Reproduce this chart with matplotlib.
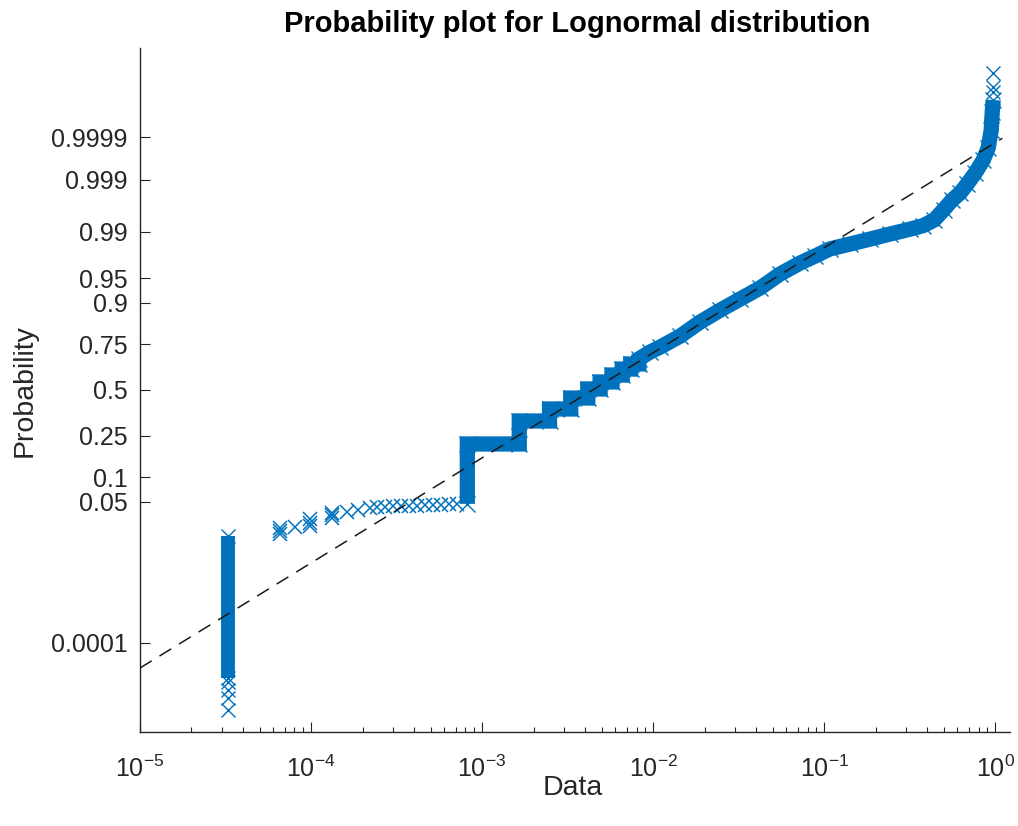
import numpy as np
import matplotlib
matplotlib.use("Agg")
import matplotlib.pyplot as plt
from matplotlib.ticker import NullLocator, FixedLocator, FixedFormatter
from statistics import NormalDist

plt.rcParams['font.family'] = ['Liberation Sans', 'DejaVu Sans']
plt.rcParams['mathtext.default'] = 'regular'

std = NormalDist()

# tied block of smallest values (drawn as a solid column)
col_x = 3.27e-5
col_p = [1.14e-5, 0.0158]
# isolated markers below that block
low_tail_p = [8.9e-6, 5.2e-6, 2.95e-6, 1.24e-6]

# sparse markers between the column and the first big step
mid_x = [6.6e-5, 6.6e-5, 6.6e-5, 8.05e-5, 9.8e-5, 9.8e-5, 9.8e-5,
         1.33e-4, 1.33e-4, 1.33e-4, 1.63e-4, 1.88e-4, 2.21e-4,
         2.43e-4, 2.71e-4, 3.02e-4, 3.36e-4, 3.74e-4, 4.17e-4,
         4.64e-4, 5.17e-4, 5.76e-4, 6.41e-4, 7.14e-4]
mid_p = [0.017, 0.019, 0.021, 0.022, 0.0228, 0.0255, 0.0285,
         0.030, 0.033, 0.035, 0.0365, 0.0388, 0.0414,
         0.0426, 0.0430, 0.0434, 0.0438, 0.0442, 0.0446,
         0.0450, 0.0454, 0.0458, 0.0462, 0.0466]

# dense part of the sample (staircase then smooth upper body)
path_x = [8.2e-4, 8.2e-4, 1.65e-3, 1.65e-3, 2.48e-3, 2.48e-3, 3.3e-3, 3.3e-3,
          4.15e-3, 4.15e-3, 4.9e-3, 4.9e-3, 5.75e-3, 5.75e-3, 6.6e-3, 6.6e-3,
          7.4e-3, 7.4e-3, 8.25e-3, 8.25e-3,
          9.61e-3, 1.10e-2, 1.44e-2, 1.88e-2, 2.47e-2, 3.23e-2, 4.22e-2,
          5.53e-2, 7.24e-2, 8.86e-2, 0.108, 0.142, 0.186, 0.243, 0.318,
          0.380, 0.440, 0.500, 0.560, 0.624, 0.686, 0.764, 0.851, 0.910,
          0.948, 0.961, 0.973]
path_p = [0.047, 0.2136, 0.2136, 0.3242, 0.3242, 0.390, 0.390, 0.453,
          0.453, 0.506, 0.506, 0.547, 0.547, 0.587, 0.587, 0.621,
          0.621, 0.649, 0.649, 0.676,
          0.712, 0.736, 0.786, 0.841, 0.880, 0.9096, 0.9332,
          0.956, 0.9691, 0.9756, 0.9810, 0.9841, 0.9868, 0.9891, 0.9910,
          0.9922, 0.9938, 0.9960, 0.9974, 0.99812, 0.99877, 0.99929, 0.99964,
          0.999814, 0.999934, 0.999978, 0.99999]

# isolated markers at the top
high_x = [0.97, 0.97, 0.973]
high_p = [0.9999941, 0.9999958, 0.9999984]

# fitted lognormal reference line
fit_mu = -5.42
fit_sigma = 1.49
line_x = [1e-5, 1.1]

prob_ticks = [0.0001, 0.05, 0.1, 0.25, 0.5, 0.75, 0.9, 0.95, 0.99, 0.999, 0.9999]
prob_labels = ['0.0001', '0.05', '0.1', '0.25', '0.5', '0.75', '0.9', '0.95',
               '0.99', '0.999', '0.9999']


def fwd(p):
    p = np.clip(np.asarray(p, dtype=float), 1e-300, 1 - 1e-16)
    return np.vectorize(std.inv_cdf, otypes=[float])(p)


def inv(z):
    return np.vectorize(std.cdf, otypes=[float])(np.asarray(z, dtype=float))


blue = '#0072BD'
grey = '#262626'

fig = plt.figure(figsize=(10.18, 8.26), dpi=100)
ax = fig.add_axes([0.1375, 0.1138, 0.8546, 0.8281])
ax.set_xscale('log')
ax.set_yscale('function', functions=(fwd, inv))

# reference line
line_p = [std.cdf((np.log(v) - fit_mu) / fit_sigma) for v in line_x]
ax.plot(line_x, line_p, color='#1a1a1a', lw=1.1, dashes=(9, 6), zorder=3)

# data
ax.plot([col_x, col_x], col_p, color=blue, lw=10, solid_capstyle='butt', zorder=2)
ax.plot([col_x, col_x], col_p, 'x', color=blue, ms=10, mew=1.0, zorder=2)
ax.plot([col_x] * len(low_tail_p), low_tail_p, 'x', color=blue, ms=10, mew=1.0)
ax.plot(mid_x, mid_p, 'x', color=blue, ms=10, mew=1.1)
ax.plot(path_x, path_p, color=blue, lw=11, solid_capstyle='butt',
        solid_joinstyle='miter', zorder=2)
ax.plot(path_x, path_p, 'x', color=blue, ms=11, mew=1.0, zorder=2)
ax.plot(high_x, high_p, 'x', color=blue, ms=10, mew=1.0)

ax.set_xlim(1e-5, 1.22)
ax.set_ylim(std.cdf(-5.03), std.cdf(5.03))

ax.yaxis.set_major_locator(FixedLocator(prob_ticks))
ax.yaxis.set_major_formatter(FixedFormatter(prob_labels))
ax.yaxis.set_minor_locator(NullLocator())
ax.set_xticks([1e-5, 1e-4, 1e-3, 1e-2, 1e-1, 1e0])

for s in ['top', 'right']:
    ax.spines[s].set_visible(False)
for s in ['left', 'bottom']:
    ax.spines[s].set_color(grey)
    ax.spines[s].set_linewidth(1.0)

ax.tick_params(which='major', direction='in', length=7.5, width=0.8,
               color=grey, labelcolor=grey, labelsize=18, pad=9)
ax.tick_params(which='minor', direction='in', length=3.8, width=0.8, color=grey)
ax.tick_params(axis='x', which='major', pad=17)

fig.text(577 / 1018, 1 - 24 / 826, 'Probability plot for Lognormal distribution',
         ha='center', va='center', fontsize=21, fontweight='bold', color='black')
fig.text(25 / 1018, 1 - 391 / 826, 'Probability', rotation=90,
         ha='center', va='center', fontsize=20.5, color=grey)
fig.text(573 / 1018, 1 - 788 / 826, 'Data', ha='center', va='center',
         fontsize=20.5, color=grey)

fig.savefig('out.png', dpi=100)
